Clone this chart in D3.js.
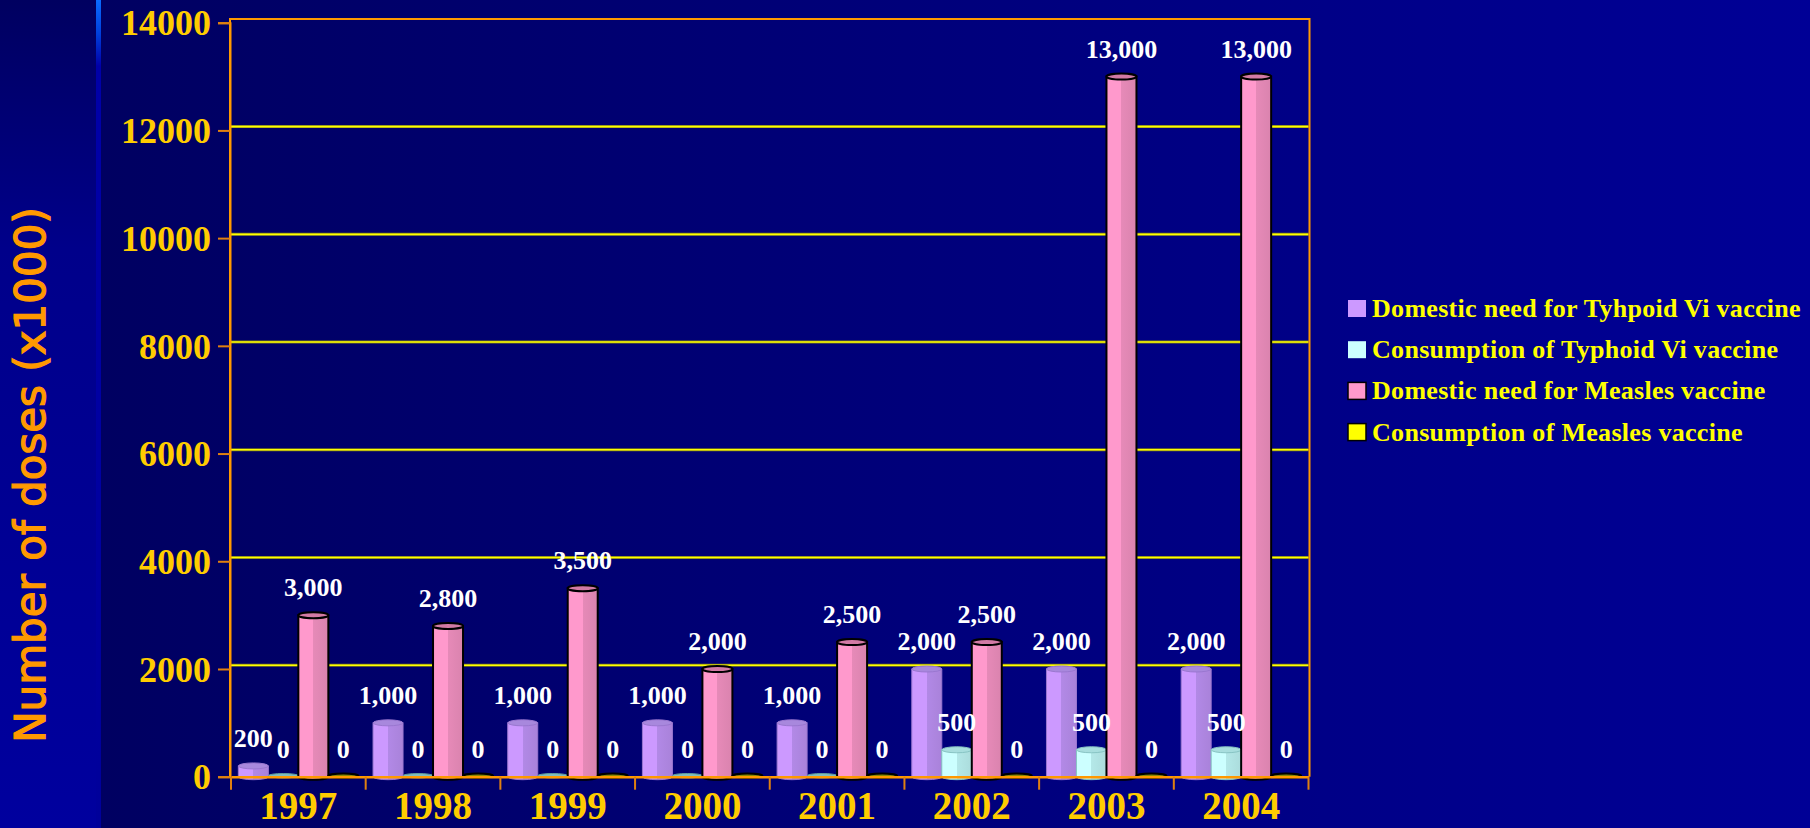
<!DOCTYPE html>
<html>
<head>
<meta charset="utf-8">
<script src="https://cdn.jsdelivr.net/npm/d3@7"></script>
<style>
  html, body { margin: 0; padding: 0; background: #000066; }
  svg { display: block; }
</style>
</head>
<body>
<svg id="chart" width="1810" height="828"></svg>
<script>
// ---------------- data ----------------
const years = ["1997", "1998", "1999", "2000", "2001", "2002", "2003", "2004"];
const seriesNames = [
  "Domestic need for Tyhpoid Vi vaccine",
  "Consumption of Typhoid Vi vaccine",
  "Domestic need for Measles vaccine",
  "Consumption of Measles vaccine"
];
const typhoidNeed = [200, 1000, 1000, 1000, 1000, 2000, 2000, 2000];
const typhoidUse  = [0, 0, 0, 0, 0, 500, 500, 500];
const measlesNeed = [3000, 2800, 3500, 2000, 2500, 2500, 13000, 13000];
const measlesUse  = [0, 0, 0, 0, 0, 0, 0, 0];
const yTicks = [0, 2000, 4000, 6000, 8000, 10000, 12000, 14000];

const seriesValues = [typhoidNeed, typhoidUse, measlesNeed, measlesUse];

// ---------------- styles ----------------
const styles = [
  { main: "#cc99ff", dark: "#b289e6", top: "#a888dd", stroke: "#9a77d0", sw: 1, zeroFill: "#a888dd", zeroStroke: "#9a77d0" },
  { main: "#ccffff", dark: "#b4e8e8", top: "#a8dede", stroke: "#88c4c4", sw: 1, zeroFill: "#7fbfbf", zeroStroke: "#5f9f9f" },
  { main: "#ff99cc", dark: "#e68ab8", top: "#d27aa5", stroke: "#000000", sw: 2, zeroFill: "#d27aa5", zeroStroke: "#000000" },
  { main: "#ffff00", dark: "#e0e000", top: "#aaaa00", stroke: "#000000", sw: 2, zeroFill: "#8a8a00", zeroStroke: "#000000" }
];
const legendSwatch = [
  { fill: "#cc99ff", stroke: "none" },
  { fill: "#ccffff", stroke: "none" },
  { fill: "#ff99cc", stroke: "#000" },
  { fill: "#ffff00", stroke: "#000" }
];

const svg = d3.select("#chart");
const defs = svg.append("defs");

// backgrounds
const bgGrad = defs.append("linearGradient").attr("id", "bg").attr("x1", 0).attr("x2", 1).attr("y1", 0).attr("y2", 0);
bgGrad.append("stop").attr("offset", "0").attr("stop-color", "#00005e");
bgGrad.append("stop").attr("offset", "1").attr("stop-color", "#000096");
const leftGrad = defs.append("linearGradient").attr("id", "leftbg").attr("x1", 0).attr("x2", 0).attr("y1", 0).attr("y2", 1);
leftGrad.append("stop").attr("offset", "0").attr("stop-color", "#000060");
leftGrad.append("stop").attr("offset", "0.3").attr("stop-color", "#00008a");
leftGrad.append("stop").attr("offset", "1").attr("stop-color", "#00009e");
const lineGrad = defs.append("linearGradient").attr("id", "linebg").attr("x1", 0).attr("x2", 0).attr("y1", 0).attr("y2", 1);
lineGrad.append("stop").attr("offset", "0").attr("stop-color", "#0a6cff");
lineGrad.append("stop").attr("offset", "0.04").attr("stop-color", "#0040dd");
lineGrad.append("stop").attr("offset", "0.08").attr("stop-color", "#0000a8");
lineGrad.append("stop").attr("offset", "1").attr("stop-color", "#00009a");

svg.append("rect").attr("x", 0).attr("y", 0).attr("width", 1810).attr("height", 828).attr("fill", "url(#bg)");
svg.append("rect").attr("x", 0).attr("y", 0).attr("width", 96).attr("height", 828).attr("fill", "url(#leftbg)");
svg.append("rect").attr("x", 96).attr("y", 0).attr("width", 5).attr("height", 828).attr("fill", "url(#linebg)");

// bar gradients
styles.forEach((s, i) => {
  const g = defs.append("linearGradient").attr("id", "bar" + i).attr("x1", 0).attr("x2", 1).attr("y1", 0).attr("y2", 0);
  g.append("stop").attr("offset", "0").attr("stop-color", s.main);
  g.append("stop").attr("offset", "0.5").attr("stop-color", s.main);
  g.append("stop").attr("offset", "0.5").attr("stop-color", s.dark);
  g.append("stop").attr("offset", "1").attr("stop-color", d3.color(s.dark).darker(0.15));
});

// ---------------- scales ----------------
const plotLeft = 231, plotRight = 1308.5, plotBottom = 776.7, plotTop = 22.7;
const wallDy = -3.8;

const x0 = d3.scaleBand().domain(years).range([plotLeft, plotRight]).padding(0);
const x1 = d3.scaleBand().domain(d3.range(seriesNames.length)).range([0, x0.bandwidth()]).paddingInner(0).paddingOuter(0.245);
const y = d3.scaleLinear().domain([0, 14000]).range([plotBottom, plotTop]);

const orange = "#ff9900";

// gridlines on back wall
svg.append("g").selectAll("line").data(yTicks.filter(v => v > 0 && v < 14000)).join("line")
  .attr("x1", plotLeft).attr("x2", plotRight)
  .attr("y1", d => y(d) + wallDy).attr("y2", d => y(d) + wallDy)
  .attr("stroke", "#7a7a20").attr("stroke-width", 3);
svg.append("g").selectAll("line").data(yTicks.filter(v => v > 0 && v < 14000)).join("line")
  .attr("x1", plotLeft).attr("x2", plotRight)
  .attr("y1", d => y(d) + wallDy).attr("y2", d => y(d) + wallDy)
  .attr("stroke", "#ffff00").attr("stroke-width", 1.6);

// frame
const frameTop = y(14000) + wallDy;
svg.append("path")
  .attr("d", `M${plotLeft - 1},${plotBottom} L${plotLeft - 1},${frameTop} L${plotRight + 1},${frameTop} L${plotRight + 1},${plotBottom}`)
  .attr("fill", "none").attr("stroke", orange).attr("stroke-width", 2);

// y axis
const yAxis = d3.axisLeft(y).tickValues(yTicks).tickSize(12).tickPadding(7).tickFormat(d3.format("d"));
const yG = svg.append("g").attr("transform", `translate(${plotLeft - 1},0)`).call(yAxis);
yG.select(".domain").attr("stroke", orange).attr("stroke-width", 2);
yG.selectAll(".tick line").attr("stroke", "#e08010").attr("stroke-width", 2);
yG.selectAll(".tick text")
  .attr("fill", "#ffcc00").attr("font-family", "'Liberation Serif', 'Times New Roman', serif")
  .attr("font-weight", "bold").attr("font-size", 36).attr("dy", "0.34em");

// bars
const rx = x1.bandwidth() / 2;
const ry = 3;
years.forEach((yr, ci) => {
  const g = svg.append("g").attr("transform", `translate(${x0(yr)},0)`);
  seriesValues.forEach((vals, si) => {
    const v = vals[ci];
    const s = styles[si];
    const bx = x1(si);
    const bw = x1.bandwidth();
    const yTop = y(v), yBot = y(0);
    if (v > 0) {
      g.append("path")
        .attr("d", `M${bx},${yTop} L${bx},${yBot} A${rx},${ry} 0 0 0 ${bx + bw},${yBot} L${bx + bw},${yTop} Z`)
        .attr("fill", `url(#bar${si})`).attr("stroke", s.stroke).attr("stroke-width", s.sw);
      g.append("ellipse")
        .attr("cx", bx + bw / 2).attr("cy", yTop).attr("rx", rx).attr("ry", ry)
        .attr("fill", s.top).attr("stroke", s.stroke).attr("stroke-width", s.sw);
    } else {
      g.append("ellipse")
        .attr("cx", bx + bw / 2).attr("cy", yBot - 1).attr("rx", rx).attr("ry", 2.2)
        .attr("fill", s.zeroFill).attr("stroke", s.zeroStroke).attr("stroke-width", s.sw);
    }
  });
});

// floor line + x axis
const xAxis = d3.axisBottom(x0).tickSize(0).tickPadding(0);
const xG = svg.append("g").attr("transform", `translate(0,${plotBottom})`).call(xAxis);
xG.select(".domain").attr("stroke", orange).attr("stroke-width", 2.5);
xG.selectAll(".tick text")
  .attr("fill", "#ffcc00").attr("font-family", "'Liberation Serif', 'Times New Roman', serif")
  .attr("font-weight", "bold").attr("font-size", 39).attr("dy", 0).attr("y", 42.5);
// category boundary ticks
svg.append("g").selectAll("line").data(years.concat(["end"])).join("line")
  .attr("x1", (d, i) => i < years.length ? x0(d) : plotRight)
  .attr("x2", (d, i) => i < years.length ? x0(d) : plotRight)
  .attr("y1", plotBottom).attr("y2", plotBottom + 13)
  .attr("stroke", "#e08010").attr("stroke-width", 2);

// value labels
const fmt = d3.format(",");
years.forEach((yr, ci) => {
  seriesValues.forEach((vals, si) => {
    const v = vals[ci];
    svg.append("text")
      .attr("x", x0(yr) + x1(si) + x1.bandwidth() / 2)
      .attr("y", y(v) - 19)
      .attr("text-anchor", "middle")
      .attr("fill", "#ffffff")
      .attr("font-family", "'Liberation Serif', 'Times New Roman', serif")
      .attr("font-weight", "bold").attr("font-size", 26)
      .text(fmt(v));
  });
});

// y axis title
svg.append("text")
  .attr("transform", "translate(45,475) rotate(-90)")
  .attr("text-anchor", "middle")
  .attr("fill", "#ff9900")
  .attr("stroke", "#ff9900").attr("stroke-width", 1.3)
  .attr("font-family", "'DejaVu Sans', Verdana, sans-serif")
  .attr("font-size", 42)
  .text("Number of doses (x1000)");

// legend
const legend = svg.append("g").attr("transform", "translate(1348,0)");
seriesNames.forEach((name, i) => {
  const by = 317 + i * 41.2;
  legend.append("rect")
    .attr("x", 0).attr("y", by - 17).attr("width", 18).attr("height", 17)
    .attr("fill", legendSwatch[i].fill)
    .attr("stroke", legendSwatch[i].stroke).attr("stroke-width", legendSwatch[i].stroke === "none" ? 0 : 1.5);
  legend.append("text")
    .attr("x", 24).attr("y", by)
    .attr("fill", "#ffff00")
    .attr("font-family", "'Liberation Serif', 'Times New Roman', serif")
    .attr("font-weight", "bold").attr("font-size", 26)
    .attr("letter-spacing", "0.3px")
    .text(name);
});
</script>
</body>
</html>
